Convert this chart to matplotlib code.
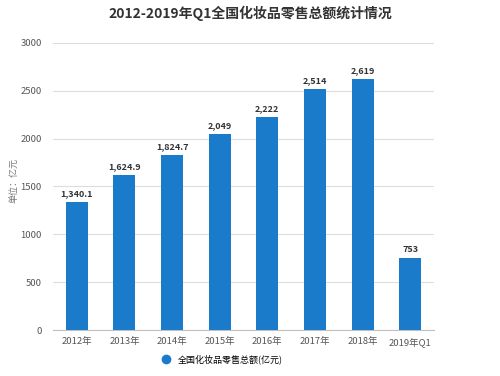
import matplotlib.pyplot as plt
from matplotlib.lines import Line2D

plt.rcParams['font.family'] = ['Noto Sans CJK SC', 'DejaVu Sans']

categories = ['2012年', '2013年', '2014年', '2015年', '2016年', '2017年', '2018年', '2019年Q1']
values = [1340.1, 1624.9, 1824.7, 2049, 2222, 2514, 2619, 753]
labels = ['1,340.1', '1,624.9', '1,824.7', '2,049', '2,222', '2,514', '2,619', '753']

bar_color = '#1b7bcb'

fig = plt.figure(figsize=(5, 3.76), dpi=100)
ax = fig.add_axes([0.106, 0.122, 0.762, 0.764])

x = range(len(categories))
ax.bar(x, values, width=0.46, color=bar_color, zorder=3)
for i, (v, t) in enumerate(zip(values, labels)):
    ax.text(i, v + 40, t, ha='center', va='bottom', fontsize=6.5,
            fontweight='bold', color='#333333')

ax.set_xlim(-0.5, len(categories) - 0.5)
ax.set_ylim(0, 3000)
ax.set_yticks(range(0, 3001, 500))
ax.set_xticks(list(x))
ax.set_xticklabels(categories)
ax.tick_params(axis='both', labelsize=6.8, colors='#555555', length=0)
ax.tick_params(axis='x', pad=5)
ax.tick_params(axis='y', pad=8)
ax.grid(axis='y', color='#dddddd', linewidth=0.8, zorder=0)
for s in ['top', 'right', 'left']:
    ax.spines[s].set_visible(False)
ax.spines['bottom'].set_color('#c0c0c0')

ax.set_ylabel('单位：亿元', fontsize=6.5, color='#777777')
ax.yaxis.set_label_coords(-0.09, 0.52)

fig.suptitle('2012-2019年Q1全国化妆品零售总额统计情况', fontsize=10,
             fontweight='bold', color='#333333', y=0.985)

handle = Line2D([], [], marker='o', linestyle='none', color=bar_color, markersize=6)
fig.legend([handle], ['全国化妆品零售总额(亿元)'], loc='center', bbox_to_anchor=(0.44, 0.045),
           frameon=False, fontsize=6.5, handletextpad=0.3)

fig.savefig('out.png', dpi=100)
